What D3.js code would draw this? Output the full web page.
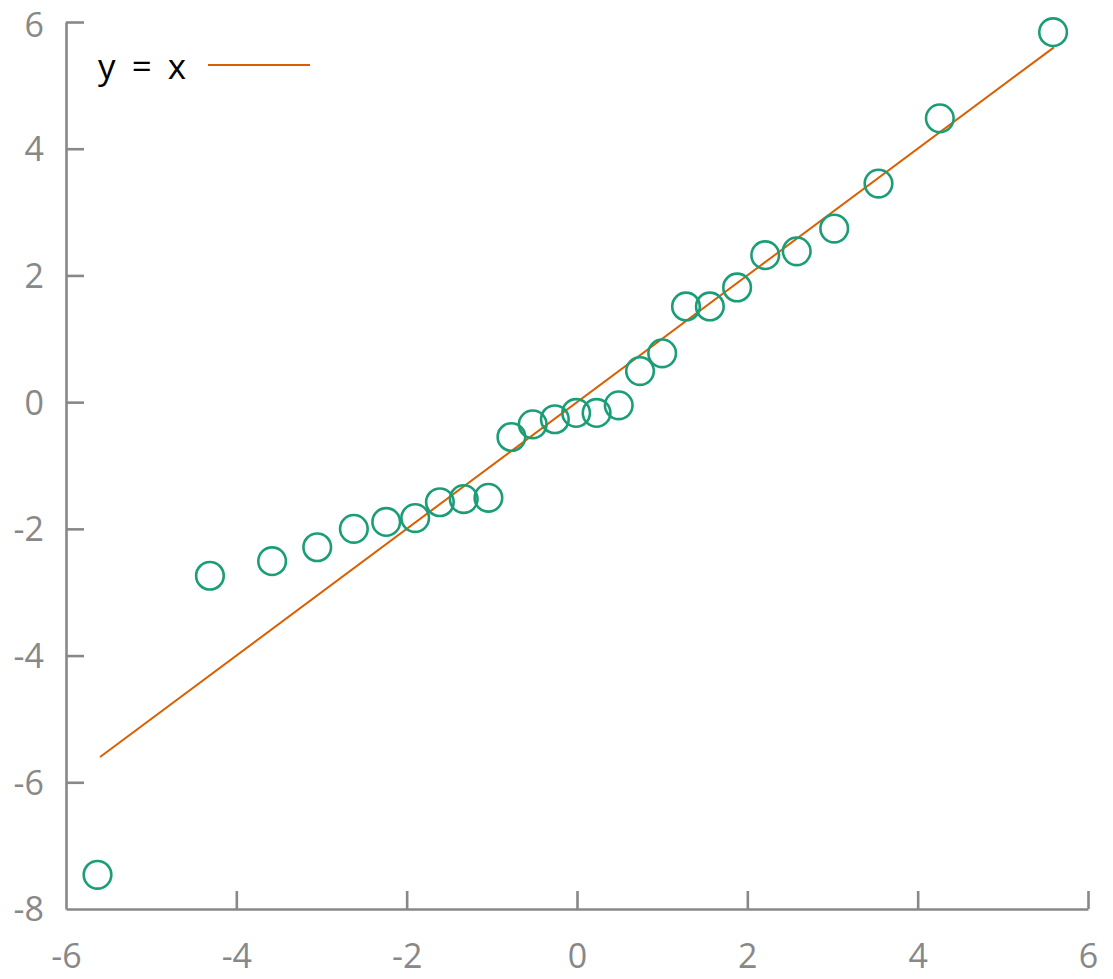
<!DOCTYPE html>
<html><head><meta charset="utf-8">
<script src="https://cdn.jsdelivr.net/npm/d3@7"></script>
<style>body{margin:0;background:#fff}svg{display:block}</style>
</head><body>
<script>
const xs = [-5.63,-4.31,-3.58,-3.05,-2.62,-2.24,-1.90,-1.61,-1.33,-1.04,-0.77,-0.52,-0.26,-0.01,0.23,0.49,0.74,1.00,1.28,1.56,1.88,2.21,2.58,3.02,3.54,4.26,5.59];
const ys = [-7.46,-2.74,-2.51,-2.29,-2.00,-1.89,-1.83,-1.58,-1.53,-1.51,-0.55,-0.35,-0.27,-0.17,-0.17,-0.05,0.49,0.77,1.51,1.51,1.81,2.32,2.38,2.74,3.45,4.48,5.84];
const xTicks = [-6,-4,-2,0,2,4,6];
const yTicks = [-8,-6,-4,-2,0,2,4,6];
const lineX = [-5.6,5.6];
const legendLabel = "y = x";

const W=1113,H=979;
const svg=d3.select("body").append("svg").attr("width",W).attr("height",H);
const x=d3.scaleLinear().domain([-6,6]).range([66,1088]);
const y=d3.scaleLinear().domain([-8,6]).range([909,22]);
const axisColor="#888";
const font="'Open Sans', sans-serif";
const fmt=d=>String(d);

const gx=svg.append("g").attr("transform",`translate(0,${y(-8)})`)
  .call(d3.axisBottom(x).tickValues(xTicks).tickFormat(fmt).tickSize(-18).tickSizeOuter(0));
const gy=svg.append("g").attr("transform",`translate(${x(-6)},0)`)
  .call(d3.axisLeft(y).tickValues(yTicks).tickFormat(fmt).tickSize(-18).tickPadding(22).tickSizeOuter(0));
[gx,gy].forEach(g=>{
  g.select(".domain").attr("stroke",axisColor).attr("stroke-width",2.6);
  g.selectAll(".tick line").attr("stroke",axisColor).attr("stroke-width",2.6);
  g.selectAll(".tick text").attr("fill",axisColor).style("font-family",font).style("font-size","34px");
});
gx.selectAll(".tick").filter(d=>d===-6).select("line").remove();
gy.selectAll(".tick").filter(d=>d===-8).select("line").remove();
gx.selectAll(".tick text").attr("dy","0.35em").attr("y",47);
gy.selectAll(".tick text").attr("dy","0.35em");
gy.selectAll(".tick").filter(d=>d===6).select("text").attr("y",3);

svg.append("line").attr("x1",x(lineX[0])).attr("y1",y(lineX[0])).attr("x2",x(lineX[1])).attr("y2",y(lineX[1]))
  .attr("stroke","#d95f02").attr("stroke-width",2);

svg.append("g").selectAll("circle").data(xs.map((v,i)=>[v,ys[i]])).join("circle")
  .attr("cx",d=>x(d[0])).attr("cy",d=>y(d[1])).attr("r",13.8)
  .attr("fill","none").attr("stroke","#1b9e77").attr("stroke-width",2.6);

svg.append("text").attr("x",98).attr("y",67).attr("dy","0.35em").text(legendLabel)
  .style("font-family",font).style("font-size","35px").style("word-spacing","7px").attr("fill","#000");
svg.append("line").attr("x1",208).attr("x2",310).attr("y1",65).attr("y2",65)
  .attr("stroke","#d95f02").attr("stroke-width",2);
</script>
</body></html>
